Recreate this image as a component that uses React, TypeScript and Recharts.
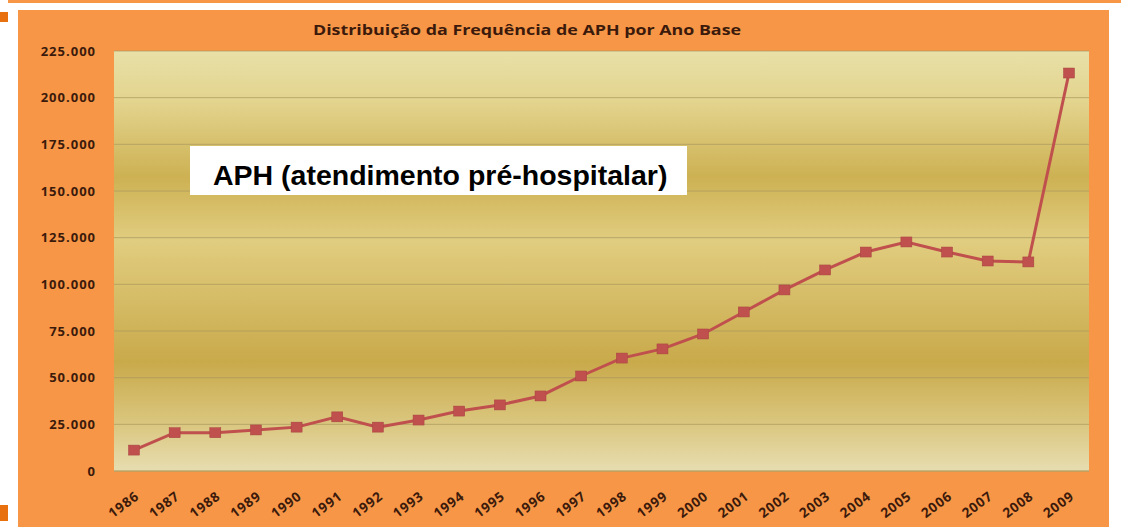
import React from 'react';
import {
  LineChart,
  Line,
  XAxis,
  YAxis,
  CartesianGrid,
} from 'recharts';

const years = [
  '1986', '1987', '1988', '1989', '1990', '1991', '1992', '1993', '1994', '1995', '1996', '1997',
  '1998', '1999', '2000', '2001', '2002', '2003', '2004', '2005', '2006', '2007', '2008', '2009',
];
const aphValues = [
  11200, 20500, 20500, 22000, 23500, 29000, 23500, 27300, 32100, 35400, 40200, 50900,
  60500, 65400, 73400, 85200, 97000, 107700, 117300, 122700, 117300, 112500, 112000, 213200,
];
const yTicks = [0, 25000, 50000, 75000, 100000, 125000, 150000, 175000, 200000, 225000];

const chartTitle = 'Distribuição da Frequência de APH por Ano Base';
const legendLabel = 'APH (atendimento pré-hospitalar)';

const data = years.map((year, i) => ({ year, aph: aphValues[i] }));

// 25000 -> "25.000"
const formatThousands = (v: number) =>
  String(v).replace(/\B(?=(\d{3})+(?!\d))/g, '.');

const ORANGE = '#f79646';
const LABEL_COLOR = '#3b1a0c';
const LINE_RED = '#c0504d';

function YearTick({ x, y, payload }: any) {
  const ax = x + 6;
  const ay = y + 19;
  return (
    <text
      x={ax}
      y={ay}
      transform={`rotate(-37, ${ax}, ${ay})`}
      textAnchor="end"
      fontFamily="'Open Sans', sans-serif"
      fontWeight={700}
      fontSize={13.5}
      letterSpacing={0.8}
      fill={LABEL_COLOR}
    >
      {payload.value}
    </text>
  );
}

function SquareDot({ cx, cy }: any) {
  if (cx == null || cy == null) return null;
  return <rect x={cx - 5.5} y={cy - 5} width={11} height={10} fill={LINE_RED} stroke="#a84340" strokeWidth={0.5} />;
}

export default function App() {
  return (
    <div
      style={{
        position: 'absolute',
        left: 0,
        top: 0,
        width: 1121,
        height: 527,
        background: '#ffffff',
        overflow: 'hidden',
      }}
    >
      {/* slide decoration */}
      <div style={{ position: 'absolute', left: 8, top: 0, width: 1113, height: 3, background: ORANGE }} />
      <div style={{ position: 'absolute', left: 0, top: 12, width: 8, height: 10, background: '#e8700f' }} />
      <div style={{ position: 'absolute', left: 0, top: 505, width: 8, height: 16, background: '#e8700f' }} />

      <div style={{ position: 'absolute', left: 18, top: 10, width: 1091, height: 517, background: ORANGE }}>
        <div
          style={{
            position: 'absolute',
            left: 0,
            top: 11,
            width: 1018,
            textAlign: 'center',
            fontFamily: "'Open Sans', sans-serif",
            fontWeight: 700,
            fontSize: 13.5,
            color: LABEL_COLOR,
            transform: 'scaleX(1.32)',
            transformOrigin: '509px 0',
          }}
        >
          {chartTitle}
        </div>

        <LineChart
          width={1091}
          height={517}
          data={data}
          margin={{ top: 41, right: 20, left: 0, bottom: 0 }}
        >
          <defs>
            <linearGradient id="plotBg" x1="0" y1="0" x2="0" y2="1">
              <stop offset="0%" stopColor="#e8e0a8" />
              <stop offset="12%" stopColor="#e3d48e" />
              <stop offset="30%" stopColor="#cdb153" />
              <stop offset="45%" stopColor="#e1cd80" />
              <stop offset="58%" stopColor="#d6bd68" />
              <stop offset="74%" stopColor="#c9aa4b" />
              <stop offset="88%" stopColor="#d9c57c" />
              <stop offset="100%" stopColor="#e7ddb0" />
            </linearGradient>
          </defs>
          <CartesianGrid
            vertical={false}
            stroke="#a8975e"
            strokeOpacity={0.7}
            fill="url(#plotBg)"
            fillOpacity={1}
          />
          <XAxis
            dataKey="year"
            height={56}
            interval={0}
            padding={{ left: 20, right: 20 }}
            tickLine={false}
            axisLine={{ stroke: '#b8a46a' }}
            tick={<YearTick />}
          />
          <YAxis
            width={96}
            domain={[0, 225000]}
            ticks={yTicks}
            interval={0}
            tickLine={false}
            axisLine={false}
            tickMargin={12}
            tickFormatter={formatThousands}
            tick={{
              fill: LABEL_COLOR,
              fontSize: 13,
              fontWeight: 700,
              letterSpacing: 1,
              fontFamily: "'Open Sans', sans-serif",
            }}
          />
          <Line
            type="linear"
            dataKey="aph"
            stroke={LINE_RED}
            strokeWidth={3}
            dot={<SquareDot />}
            activeDot={false}
            isAnimationActive={false}
          />
        </LineChart>

        <div
          style={{
            position: 'absolute',
            left: 172,
            top: 136,
            width: 497,
            height: 49,
            background: '#ffffff',
            overflow: 'hidden',
          }}
        >
          <div
            style={{
              position: 'absolute',
              left: 23,
              top: 15,
              whiteSpace: 'nowrap',
              fontFamily: "'Liberation Sans', Arial, sans-serif",
              fontWeight: 700,
              fontSize: 28.5,
              lineHeight: '29px',
              color: '#000000',
            }}
          >
            {legendLabel}
          </div>
        </div>
      </div>
    </div>
  );
}
